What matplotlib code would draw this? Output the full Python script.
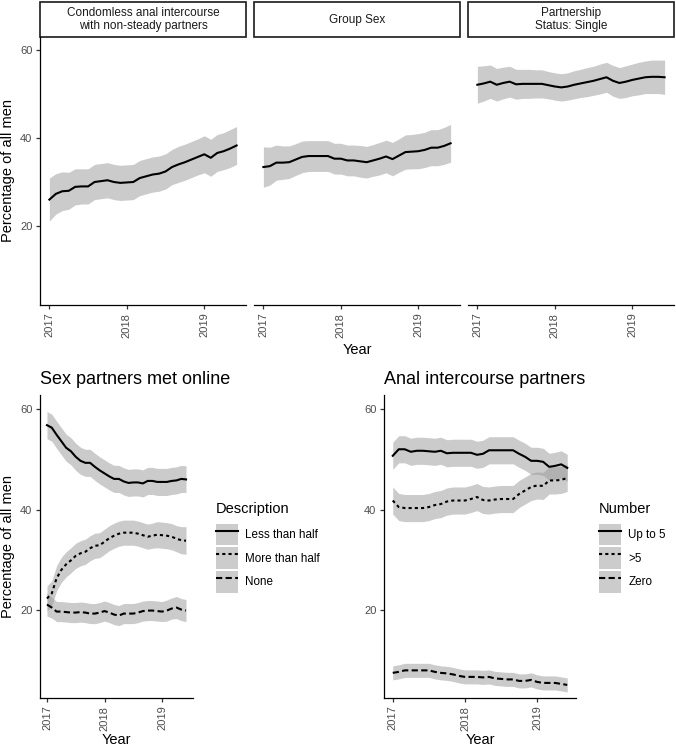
import numpy as np
import matplotlib
matplotlib.use('Agg')
from matplotlib import pyplot as plt
from matplotlib.patches import Rectangle, Patch
from matplotlib.lines import Line2D

plt.rcParams['font.family'] = ['Liberation Sans', 'DejaVu Sans']

# monthly time points, Jan 2017 .. Jun 2019
year = [2017 + m / 12.0 for m in range(30)]

# top row: facets
cai = [26.0, 27.3, 27.9, 28.0, 28.9, 29.0, 29.0, 30.0, 30.2, 30.4, 30.0, 29.8, 29.9, 30.0, 30.9,
       31.3, 31.7, 31.9, 32.4, 33.4, 34.0, 34.5, 35.1, 35.7, 36.3, 35.5, 36.6, 37.0, 37.6, 38.3]
cai_lo = [21.1, 22.7, 23.5, 23.8, 24.8, 25.0, 25.0, 26.0, 26.2, 26.4, 26.0, 25.8, 25.9, 26.0, 26.9,
          27.3, 27.7, 27.9, 28.4, 29.4, 29.9, 30.4, 31.0, 31.6, 32.1, 31.3, 32.4, 32.8, 33.3, 34.0]
cai_hi = [30.9, 31.9, 32.3, 32.2, 33.0, 33.0, 33.0, 34.0, 34.2, 34.4, 34.0, 33.8, 33.9, 34.0, 34.9,
          35.3, 35.7, 35.9, 36.4, 37.4, 38.1, 38.6, 39.2, 39.8, 40.5, 39.7, 40.8, 41.2, 41.9, 42.6]

group = [33.4, 33.6, 34.4, 34.4, 34.5, 35.1, 35.7, 35.9, 35.9, 35.9, 35.9, 35.3, 35.3, 34.9, 34.9,
         34.7, 34.5, 34.9, 35.3, 35.8, 35.2, 36.0, 36.8, 36.9, 37.0, 37.3, 37.8, 37.8, 38.2, 38.8]
group_lo = [28.8, 29.3, 30.4, 30.6, 30.8, 31.5, 32.1, 32.4, 32.4, 32.4, 32.4, 31.8, 31.8, 31.4, 31.4,
            31.1, 30.9, 31.3, 31.6, 32.1, 31.4, 32.2, 32.9, 33.0, 33.0, 33.3, 33.7, 33.7, 34.0, 34.5]
group_hi = [38.0, 37.9, 38.4, 38.2, 38.2, 38.7, 39.3, 39.4, 39.4, 39.4, 39.4, 38.8, 38.8, 38.4, 38.4,
            38.3, 38.1, 38.5, 39.0, 39.5, 39.0, 39.8, 40.7, 40.8, 41.0, 41.3, 41.9, 41.9, 42.4, 43.1]

single = [52.1, 52.4, 52.8, 52.1, 52.5, 52.8, 52.2, 52.3, 52.3, 52.3, 52.3, 52.0, 51.7, 51.5, 51.7,
          52.1, 52.4, 52.7, 53.0, 53.4, 53.8, 53.0, 52.5, 52.8, 53.2, 53.5, 53.8, 53.9, 53.9, 53.8]
single_lo = [47.9, 48.4, 49.0, 48.4, 48.9, 49.3, 48.8, 49.0, 49.0, 49.1, 49.1, 48.9, 48.6, 48.4, 48.6,
             48.9, 49.2, 49.4, 49.7, 50.0, 50.4, 49.5, 49.0, 49.2, 49.6, 49.8, 50.1, 50.1, 50.1, 49.9]
single_hi = [56.3, 56.4, 56.6, 55.8, 56.1, 56.3, 55.6, 55.6, 55.6, 55.5, 55.5, 55.1, 54.8, 54.6, 54.8,
             55.3, 55.6, 56.0, 56.3, 56.8, 57.2, 56.5, 56.0, 56.4, 56.8, 57.2, 57.5, 57.7, 57.7, 57.7]

facet_titles = ['Condomless anal intercourse\nwith non-steady partners', 'Group Sex',
                'Partnership\nStatus: Single']

# bottom left: sex partners met online
less_half = [56.8, 56.3, 54.9, 53.6, 52.3, 51.6, 50.5, 49.7, 49.3, 49.3, 48.5, 47.8, 47.2, 46.6, 46.1,
             46.1, 45.6, 45.3, 45.4, 45.4, 45.2, 45.7, 45.7, 45.5, 45.5, 45.5, 45.7, 45.8, 46.1, 46.0]
less_half_lo = [54.1, 53.6, 52.2, 50.9, 49.6, 48.9, 47.8, 47.0, 46.6, 46.6, 45.8, 45.1, 44.5, 43.9, 43.4,
                43.4, 42.9, 42.6, 42.7, 42.7, 42.5, 43.0, 43.0, 42.8, 42.8, 42.8, 43.0, 43.1, 43.4, 43.4]
less_half_hi = [59.5, 59.0, 57.6, 56.3, 55.0, 54.3, 53.2, 52.4, 52.0, 52.0, 51.2, 50.5, 49.9, 49.3, 48.8,
                48.8, 48.3, 48.0, 48.1, 48.1, 47.9, 48.4, 48.4, 48.2, 48.2, 48.2, 48.4, 48.5, 48.8, 48.7]

more_half = [22.3, 23.3, 26.3, 28.0, 29.1, 29.9, 30.8, 31.3, 31.6, 32.3, 32.8, 32.9, 33.6, 34.3, 34.8,
             35.2, 35.4, 35.4, 35.4, 35.2, 34.9, 34.6, 34.8, 35.0, 34.9, 34.8, 34.6, 34.2, 33.9, 33.8]
more_half_lo = [19.8, 20.8, 23.8, 25.5, 26.6, 27.4, 28.3, 28.8, 29.1, 29.8, 30.3, 30.4, 31.1, 31.8, 32.3,
                32.7, 32.9, 32.9, 32.9, 32.7, 32.4, 32.1, 32.3, 32.4, 32.3, 32.2, 32.0, 31.6, 31.2, 31.1]
more_half_hi = [24.8, 25.8, 28.8, 30.5, 31.6, 32.4, 33.3, 33.8, 34.1, 34.8, 35.3, 35.4, 36.1, 36.8, 37.3,
                37.7, 37.9, 37.9, 37.9, 37.7, 37.4, 37.1, 37.3, 37.6, 37.5, 37.4, 37.2, 36.8, 36.6, 36.6]

none = [21.1, 20.5, 19.7, 19.7, 19.6, 19.5, 19.5, 19.6, 19.5, 19.3, 19.3, 19.5, 19.8, 19.5, 19.1,
        18.9, 19.3, 19.3, 19.3, 19.5, 19.8, 19.9, 19.9, 19.8, 19.7, 19.9, 20.3, 20.5, 20.1, 19.9]
none_lo = [18.8, 18.4, 17.7, 17.7, 17.6, 17.5, 17.5, 17.6, 17.5, 17.3, 17.3, 17.5, 17.8, 17.5, 17.1,
           16.9, 17.3, 17.3, 17.3, 17.5, 17.8, 17.9, 17.9, 17.8, 17.7, 17.8, 18.2, 18.3, 17.9, 17.7]
none_hi = [23.4, 22.6, 21.7, 21.7, 21.6, 21.5, 21.5, 21.6, 21.5, 21.3, 21.3, 21.5, 21.8, 21.5, 21.1,
           20.9, 21.3, 21.3, 21.3, 21.5, 21.8, 21.9, 21.9, 21.8, 21.7, 22.0, 22.4, 22.7, 22.3, 22.1]

online_labels = ['Less than half', 'More than half', 'None']

# bottom right: anal intercourse partners
upto5 = [50.7, 52.0, 52.0, 51.5, 51.7, 51.7, 51.6, 51.5, 51.7, 51.2, 51.3, 51.3, 51.3, 51.3, 50.9,
         51.1, 51.8, 51.8, 51.8, 51.8, 51.8, 51.1, 50.5, 49.7, 49.7, 49.5, 48.5, 48.7, 49.0, 48.3]
upto5_lo = [48.0, 49.3, 49.3, 48.8, 49.0, 49.0, 48.9, 48.8, 49.0, 48.5, 48.6, 48.6, 48.6, 48.6, 48.2,
            48.4, 49.1, 49.1, 49.1, 49.1, 49.1, 48.4, 47.8, 47.0, 47.0, 46.8, 45.8, 46.0, 46.3, 45.6]
upto5_hi = [53.4, 54.7, 54.7, 54.2, 54.4, 54.4, 54.3, 54.2, 54.4, 53.9, 54.0, 54.0, 54.0, 54.0, 53.6,
            53.8, 54.5, 54.5, 54.5, 54.5, 54.5, 53.8, 53.2, 52.4, 52.4, 52.2, 51.2, 51.4, 51.7, 51.0]

over5 = [41.8, 40.5, 40.3, 40.3, 40.3, 40.3, 40.5, 40.9, 41.1, 41.6, 41.8, 41.8, 41.8, 42.1, 42.5,
         41.9, 41.8, 42.0, 42.1, 42.1, 42.1, 43.1, 43.8, 44.5, 44.8, 44.7, 45.8, 45.8, 45.9, 46.3]
over5_lo = [39.1, 37.8, 37.6, 37.6, 37.6, 37.6, 37.8, 38.2, 38.4, 38.9, 39.1, 39.1, 39.1, 39.4, 39.8,
            39.2, 39.1, 39.3, 39.4, 39.4, 39.4, 40.4, 41.1, 41.8, 42.1, 42.0, 43.1, 43.1, 43.2, 43.6]
over5_hi = [44.5, 43.2, 43.0, 43.0, 43.0, 43.0, 43.2, 43.6, 43.8, 44.3, 44.5, 44.5, 44.5, 44.8, 45.2,
            44.6, 44.5, 44.7, 44.8, 44.8, 44.8, 45.8, 46.5, 47.2, 47.5, 47.4, 48.5, 48.5, 48.6, 49.0]

zero = [7.5, 7.7, 8.0, 8.0, 8.0, 8.0, 8.0, 7.7, 7.5, 7.4, 7.2, 6.9, 6.7, 6.7, 6.7,
        6.6, 6.7, 6.4, 6.3, 6.2, 6.2, 5.9, 5.9, 6.1, 5.7, 5.5, 5.5, 5.5, 5.3, 5.1]
zero_lo = [6.1, 6.3, 6.6, 6.6, 6.6, 6.6, 6.6, 6.3, 6.1, 6.0, 5.8, 5.5, 5.3, 5.3, 5.3,
           5.2, 5.3, 5.0, 4.9, 4.8, 4.8, 4.5, 4.5, 4.7, 4.3, 4.1, 4.1, 4.1, 3.9, 3.7]
zero_hi = [8.9, 9.1, 9.4, 9.4, 9.4, 9.4, 9.4, 9.1, 8.9, 8.8, 8.6, 8.3, 8.1, 8.1, 8.1,
           8.0, 8.1, 7.8, 7.7, 7.6, 7.6, 7.3, 7.3, 7.5, 7.1, 6.9, 6.9, 6.9, 6.7, 6.5]

number_labels = ['Up to 5', '>5', 'Zero']

xticks = [2017, 2018, 2019]
yticks = [20, 40, 60]
styles = ['-', (0, (1.5, 1.5)), (0, (3, 1.6))]

W, H = 676.0, 748.0
band = dict(color='#999999', alpha=0.5, linewidth=0)
tick_col = '#4d4d4d'


def px_axes(fig, x0, y0, x1, y1):
    return fig.add_axes([x0 / W, 1 - y1 / H, (x1 - x0) / W, (y1 - y0) / H])


def style_axes(ax, ylim, show_y=True):
    ax.set_xlim(2016.879, 2019.538)
    ax.set_ylim(ylim)
    ax.set_xticks(xticks)
    ax.set_xticklabels([str(t) for t in xticks], rotation=90)
    ax.set_yticks(yticks)
    ax.spines['top'].set_visible(False)
    ax.spines['right'].set_visible(False)
    ax.spines['bottom'].set_linewidth(0.9)
    ax.spines['left'].set_linewidth(0.9)
    ax.tick_params(labelsize=8, labelcolor=tick_col, color='#333333', length=3, width=0.9, pad=2.5)
    if not show_y:
        ax.spines['left'].set_visible(False)
        ax.tick_params(axis='y', left=False, labelleft=False)


fig = plt.figure(figsize=(6.76, 7.48), dpi=100)

# top facets
top_data = [(cai, cai_lo, cai_hi), (group, group_lo, group_hi), (single, single_lo, single_hi)]
lefts = [40, 254, 468]
for i in range(3):
    ax = px_axes(fig, lefts[i], 37, lefts[i] + 206, 305)
    y, lo, hi = top_data[i]
    ax.fill_between(year, lo, hi, **band)
    ax.plot(year, y, color='black', lw=1.5)
    style_axes(ax, (2.05, 62.95), show_y=(i == 0))
    ax.add_patch(Rectangle((0, 1.0), 1, 35 / 268.0, transform=ax.transAxes, clip_on=False,
                           facecolor='white', edgecolor='#1a1a1a', lw=1.2))
    ax.text(0.5, 1.0 + 17.5 / 268.0, facet_titles[i], transform=ax.transAxes, ha='center',
            va='center', fontsize=8.5, color='#1a1a1a', linespacing=1.05)

fig.text(8 / W, 1 - 171 / H, 'Percentage of all men', rotation=90, ha='center', va='center', fontsize=10.5)
fig.text(357 / W, 1 - 354 / H, 'Year', ha='center', va='baseline', fontsize=10.5)

# bottom panels
bottom = [
    (40, 193, 'Sex partners met online', 'Description', online_labels,
     [(less_half, less_half_lo, less_half_hi), (more_half, more_half_lo, more_half_hi), (none, none_lo, none_hi)],
     216),
    (384, 576, 'Anal intercourse partners', 'Number', number_labels,
     [(upto5, upto5_lo, upto5_hi), (over5, over5_lo, over5_hi), (zero, zero_lo, zero_hi)],
     599),
]
for x0, x1, title, leg_title, labels, series, leg_x in bottom:
    ax = px_axes(fig, x0, 395, x1, 698)
    for y, lo, hi in series:
        ax.fill_between(year, lo, hi, **band)
    for (y, lo, hi), ls in zip(series, styles):
        ax.plot(year, y, color='black', lw=1.5, linestyle=ls)
    style_axes(ax, (2.5, 62.8))
    ax.set_title(title, loc='left', fontsize=13, pad=8)
    ax.set_xlabel('Year', fontsize=10.5, labelpad=2)

    handles = [(Patch(facecolor='#cccccc', edgecolor='none'), Line2D([], [], color='black', lw=1.5, linestyle=ls))
               for ls in styles]
    leg = fig.legend(handles, labels, title=leg_title, loc='upper left',
                     bbox_to_anchor=(leg_x / W, 1 - 502 / H), frameon=False, fontsize=8.4,
                     title_fontsize=10.5, handlelength=1.9, handleheight=2.5, labelspacing=0.15,
                     handletextpad=0.6, borderpad=0, borderaxespad=0, alignment='left')
    leg._legend_box.sep = 5.5

fig.text(8 / W, 1 - 546 / H, 'Percentage of all men', rotation=90, ha='center', va='center', fontsize=10.5)

fig.savefig('out.png', dpi=100)
